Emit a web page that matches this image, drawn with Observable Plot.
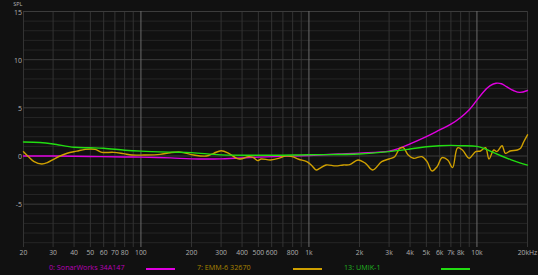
<!DOCTYPE html>
<html>
<head>
<meta charset="utf-8">
<script src="https://cdn.jsdelivr.net/npm/d3@7"></script>
<script src="https://cdn.jsdelivr.net/npm/@observablehq/plot@0.6"></script>
<style>
  html, body { margin: 0; padding: 0; background: #111111; }
  #wrap { position: relative; width: 538px; height: 275px; background: #111111; font-family: "Open Sans", sans-serif; }
  #legend { position: absolute; left: 0; top: 260px; width: 538px; height: 15px; }
  .lt { position: absolute; top: 3px; font-size: 7.2px; line-height: 9px; white-space: nowrap; }
  .ls { position: absolute; top: 8px; height: 2px; }
</style>
</head>
<body>
<div id="wrap"><div id="chart"></div><div id="legend"></div></div>
<script>
// ---- data ----
const seriesNames = ["0: SonarWorks 34A147", "7: EMM-6 32670", "13: UMIK-1"];
const seriesColors = ["#e000e0", "#cfa000", "#22dd11"];
const seriesTextColors = ["#b800b8", "#a88400", "#20b420"];

const sonarFreq = [20, 30, 50, 80, 100, 150, 200, 300, 500, 1000, 1500, 2000, 3000, 3500, 4000, 5000, 6000, 7000, 8000, 9000, 10000, 11000, 12000, 13000, 14000, 15000, 16500, 18000, 20000];
const sonarSPL  = [0, 0, -0.05, -0.1, -0.12, -0.2, -0.3, -0.3, -0.12, 0.05, 0.2, 0.3, 0.5, 0.85, 1.25, 2.0, 2.7, 3.3, 4.0, 4.8, 5.8, 6.7, 7.3, 7.55, 7.5, 7.2, 6.8, 6.6, 6.8];

const emmFreq = [20, 21.5, 23, 25.7, 28, 30.2, 33, 36.4, 41.5, 46.6, 53.4, 58.6, 68.6, 78.7, 88.3, 103.6, 130, 149, 172, 206, 245, 271, 300, 333, 375, 400, 437, 465, 495, 520, 591, 671, 721, 795, 870, 971, 1045, 1105, 1160, 1265, 1444, 1600, 1750, 1960, 2170, 2400, 2710, 3000, 3240, 3480, 3650, 3900, 4200, 4700, 5050, 5400, 5800, 6200, 6700, 7160, 7670, 8200, 8980, 9820, 10500, 11250, 11800, 12600, 13150, 14100, 14770, 15760, 17400, 18200, 19000, 20000];
const emmSPL  = [0.45, -0.1, -0.55, -0.83, -0.65, -0.34, 0, 0.28, 0.5, 0.69, 0.69, 0.38, 0.38, 0.24, 0.1, 0.1, 0.17, 0.34, 0.4, 0.1, 0, 0.28, 0.55, 0.28, -0.28, -0.28, -0.07, -0.14, -0.48, -0.31, -0.41, -0.2, 0, -0.07, -0.34, -0.59, -1.03, -1.45, -1.28, -0.93, -1.03, -0.93, -0.9, -0.41, -0.76, -1.45, -0.59, -0.31, -0.07, 0.8, 0.86, 0.1, -0.24, -0.07, -0.59, -1.55, -1.1, -0.17, -0.41, -1.21, 0.85, 0.62, -0.24, 0.45, 0.52, 0.86, -0.31, 0.62, 0.45, 1.07, 0.28, 0.52, 0.62, 0.8, 1.48, 2.2];

const umikFreq = [20, 25, 30, 40, 50, 60, 80, 100, 150, 200, 300, 500, 1000, 2000, 3000, 4000, 5000, 6000, 7000, 8000, 10000, 11000, 12000, 14000, 16000, 18000, 20000];
const umikSPL  = [1.45, 1.4, 1.25, 0.9, 0.85, 0.8, 0.6, 0.5, 0.4, 0.35, 0.12, 0.07, 0.13, 0.2, 0.45, 0.72, 0.96, 1.07, 1.1, 1.07, 1.0, 0.8, 0.5, 0.0, -0.4, -0.72, -0.95];

const xTickValues = [20, 30, 40, 50, 60, 70, 80, 100, 200, 300, 400, 500, 600, 800, 1000, 2000, 3000, 4000, 5000, 6000, 7000, 8000, 10000, 20000];
const xTickLabels = ["20", "30", "40", "50", "60", "70", "80", "100", "200", "300", "400", "500", "600", "800", "1k", "2k", "3k", "4k", "5k", "6k", "7k", "8k", "10k", "20kHz"];
const xGridMinor = [20, 30, 40, 50, 60, 70, 80, 90, 200, 300, 400, 500, 600, 700, 800, 900, 2000, 3000, 4000, 5000, 6000, 7000, 8000, 9000, 20000];
const xGridMajor = [100, 1000, 10000];
const yTickValues = [15, 10, 5, 0, -5];
const yGridMinor = [-9, -8, -7, -6, -4, -3, -2, -1, 1, 2, 3, 4, 6, 7, 8, 9, 11, 12, 13, 14];
const yLabel = "SPL";

// ---- build ----
const rows = [];
sonarFreq.forEach((f, i) => rows.push({series: seriesNames[0], f, v: sonarSPL[i]}));
emmFreq.forEach((f, i) => rows.push({series: seriesNames[1], f, v: emmSPL[i]}));
umikFreq.forEach((f, i) => rows.push({series: seriesNames[2], f, v: umikSPL[i]}));

const xTicks = xTickValues.map((v, i) => ({v, label: xTickLabels[i]}));

const chart = Plot.plot({
  width: 538,
  height: 260,
  marginLeft: 23,
  marginRight: 11,
  marginTop: 11,
  marginBottom: 13,
  style: {background: "#111111", fontFamily: "Open Sans, sans-serif", fontSize: "7px", color: "#a8a8a8"},
  x: {type: "log", domain: [20, 20000], axis: null},
  y: {domain: [-9.5, 15], axis: null},
  color: {domain: seriesNames, range: seriesColors},
  marks: [
    Plot.ruleY(yGridMinor, {stroke: "#262626", strokeWidth: 1}),
    Plot.ruleX(xGridMinor, {stroke: "#333333", strokeWidth: 1}),
    Plot.ruleY(yTickValues, {stroke: "#3c3c3c", strokeWidth: 1}),
    Plot.ruleX(xGridMajor, {stroke: "#6a6a6a", strokeWidth: 1}),
    Plot.line(rows, {x: "f", y: "v", z: "series", stroke: "series", strokeWidth: 1.4, curve: "catmull-rom"}),
    Plot.text(xTicks, {x: "v", text: "label", frameAnchor: "bottom", dy: 7.5, fill: "#b0b0b0", fontSize: 6.8}),
    Plot.text(yTickValues, {y: d => d, text: d => String(d), frameAnchor: "left", textAnchor: "end", dx: -1.5, dy: 1, fill: "#b0b0b0", fontSize: 7}),
    Plot.text([yLabel], {frameAnchor: "top-left", textAnchor: "end", dx: -1, dy: -5.5, lineAnchor: "bottom", fill: "#b0b0b0", fontSize: 5.5})
  ]
});
document.getElementById("chart").appendChild(chart);

// ---- legend ----
const legend = document.getElementById("legend");
const textLefts = [49, 197, 344];
const swatchLefts = [146, 293, 441];
seriesNames.forEach((name, i) => {
  const t = document.createElement("span");
  t.className = "lt";
  t.textContent = name;
  t.style.left = textLefts[i] + "px";
  t.style.color = seriesTextColors[i];
  legend.appendChild(t);
  const s = document.createElement("span");
  s.className = "ls";
  s.style.left = swatchLefts[i] + "px";
  s.style.width = "29px";
  s.style.background = seriesColors[i];
  legend.appendChild(s);
});
</script>
</body>
</html>
